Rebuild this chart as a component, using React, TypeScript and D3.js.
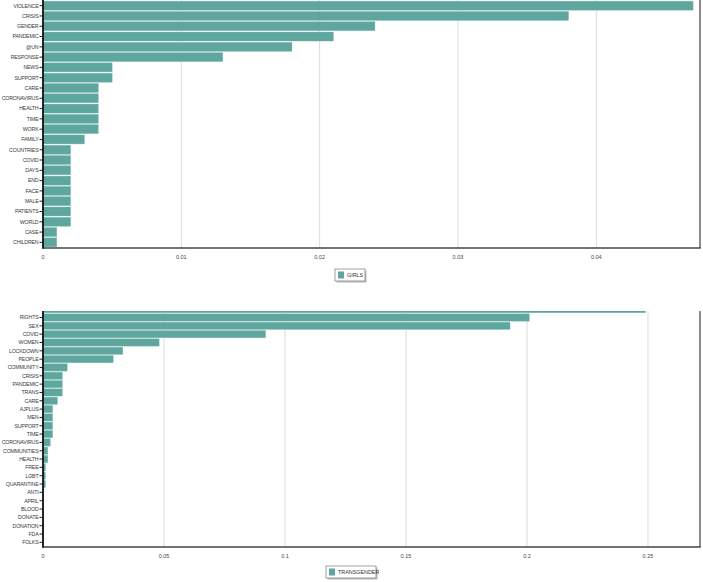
import React from 'react';
import * as d3 from 'd3';

// word frequency, "girls" tweets
const girlsWords = ['VIOLENCE', 'CRISIS', 'GENDER', 'PANDEMIC', '@UN', 'RESPONSE', 'NEWS', 'SUPPORT', 'CARE', 'CORONAVIRUS', 'HEALTH', 'TIME', 'WORK', 'FAMILY', 'COUNTRIES', 'COVID', 'DAYS', 'END', 'FACE', 'MALE', 'PATIENTS', 'WORLD', 'CASE', 'CHILDREN'];
const girlsValues = [0.047, 0.038, 0.024, 0.021, 0.018, 0.013, 0.005, 0.005, 0.004, 0.004, 0.004, 0.004, 0.004, 0.003, 0.002, 0.002, 0.002, 0.002, 0.002, 0.002, 0.002, 0.002, 0.001, 0.001];
const girlsTicks = [0, 0.01, 0.02, 0.03, 0.04];

// word frequency, "transgender" tweets (first row is cut off at the top)
const transWords = ['PRIDE', 'RIGHTS', 'SEX', 'COVID', 'WOMEN', 'LOCKDOWN', 'PEOPLE', 'COMMUNITY', 'CRISIS', 'PANDEMIC', 'TRANS', 'CARE', 'AJPLUS', 'MEN', 'SUPPORT', 'TIME', 'CORONAVIRUS', 'COMMUNITIES', 'HEALTH', 'FREE', 'LGBT', 'QUARANTINE', 'ANTI', 'APRIL', 'BLOOD', 'DONATE', 'DONATION', 'FDA', 'FOLKS'];
const transValues = [0.249, 0.201, 0.193, 0.092, 0.048, 0.033, 0.029, 0.010, 0.008, 0.008, 0.008, 0.006, 0.004, 0.004, 0.004, 0.004, 0.003, 0.002, 0.002, 0.001, 0.001, 0.001, 0.0002, 0.0002, 0.0002, 0.0002, 0.0002, 0.0002, 0.0002];
const transTicks = [0, 0.05, 0.1, 0.15, 0.2, 0.25];

const BAR = '#5fa69e';
const FONT = 'Liberation Sans, Arial, sans-serif';

type PanelProps = {
  id: string;
  words: string[];
  values: number[];
  ticks: number[];
  xMax: number;
  bandTop: number;
  bandBottom: number;
  clipTop: number;
  axisY: number;
  legend: string;
  legendX: number;
  legendY: number;
  legendW: number;
};

function BarPanel(p: PanelProps) {
  const left = 43;
  const right = 700;
  const x = d3.scaleLinear().domain([0, p.xMax]).range([left, right]);
  const y = d3.scaleBand<string>().domain(p.words).range([p.bandTop, p.bandBottom]).paddingInner(0.12).paddingOuter(0.06);

  return (
    <g>
      <defs>
        <clipPath id={p.id}>
          <rect x={0} y={p.clipTop} width={703} height={p.axisY - p.clipTop + 1} />
        </clipPath>
      </defs>

      {/* grid */}
      {p.ticks.filter(t => t > 0).map(t => (
        <line key={t} x1={x(t)} x2={x(t)} y1={p.clipTop} y2={p.axisY} stroke="#dcdcdc" strokeWidth={1} />
      ))}

      <g clipPath={`url(#${p.id})`}>
        {p.words.map((w, i) => (
          <rect key={w} x={left} y={y(w)} width={Math.max(0, x(p.values[i]) - left)} height={y.bandwidth()}
            fill={BAR} stroke="#8cc4bd" strokeWidth={0.4} />
        ))}
        {p.words.map(w => (
          <g key={w} transform={`translate(0,${(y(w) ?? 0) + y.bandwidth() / 2})`}>
            <line x1={39.5} x2={43} stroke="#222" strokeWidth={1} />
            <text x={38.5} dy="0.35em" textAnchor="end" fontSize={5.3} letterSpacing={-0.2} fontFamily={FONT} fill="#3a3a3a">{w}</text>
          </g>
        ))}
      </g>

      {/* frame */}
      <line x1={right} x2={right} y1={p.clipTop} y2={p.axisY} stroke="#666" strokeWidth={1.5} />
      <line x1={left} x2={right + 0.75} y1={p.axisY} y2={p.axisY} stroke="#444" strokeWidth={1.5} />
      <line x1={left} x2={left} y1={p.clipTop} y2={p.axisY + 0.75} stroke="#111" strokeWidth={1.8} />

      {p.ticks.map(t => (
        <text key={t} x={x(t)} y={p.axisY + 11} textAnchor="middle" fontSize={5.5} fontFamily={FONT} fill="#444">{String(t)}</text>
      ))}

      {/* legend */}
      <rect x={p.legendX + 1.5} y={p.legendY + 1.5} width={p.legendW} height={12} fill="#bbb" />
      <rect x={p.legendX} y={p.legendY} width={p.legendW} height={12} fill="#fff" stroke="#888" strokeWidth={0.8} />
      <rect x={p.legendX + 3} y={p.legendY + 2.5} width={6} height={7} fill={BAR} />
      <text x={p.legendX + 12} y={p.legendY + 6} dy="0.35em" fontSize={5.4} fontFamily={FONT} fill="#333">{p.legend}</text>
    </g>
  );
}

export default function App() {
  return (
    <svg width={703} height={582} style={{ position: 'absolute', left: 0, top: 0, background: '#fff' }}>
      <BarPanel id="clip-girls" words={girlsWords} values={girlsValues} ticks={girlsTicks} xMax={0.0475}
        bandTop={0.5} bandBottom={247.5} clipTop={0} axisY={248}
        legend="GIRLS" legendX={335} legendY={269} legendW={30} />
      <BarPanel id="clip-trans" words={transWords} values={transValues} ticks={transTicks} xMax={0.2715}
        bandTop={305} bandBottom={546.5} clipTop={311} axisY={547}
        legend="TRANSGENDER" legendX={326} legendY={566} legendW={50} />
    </svg>
  );
}
